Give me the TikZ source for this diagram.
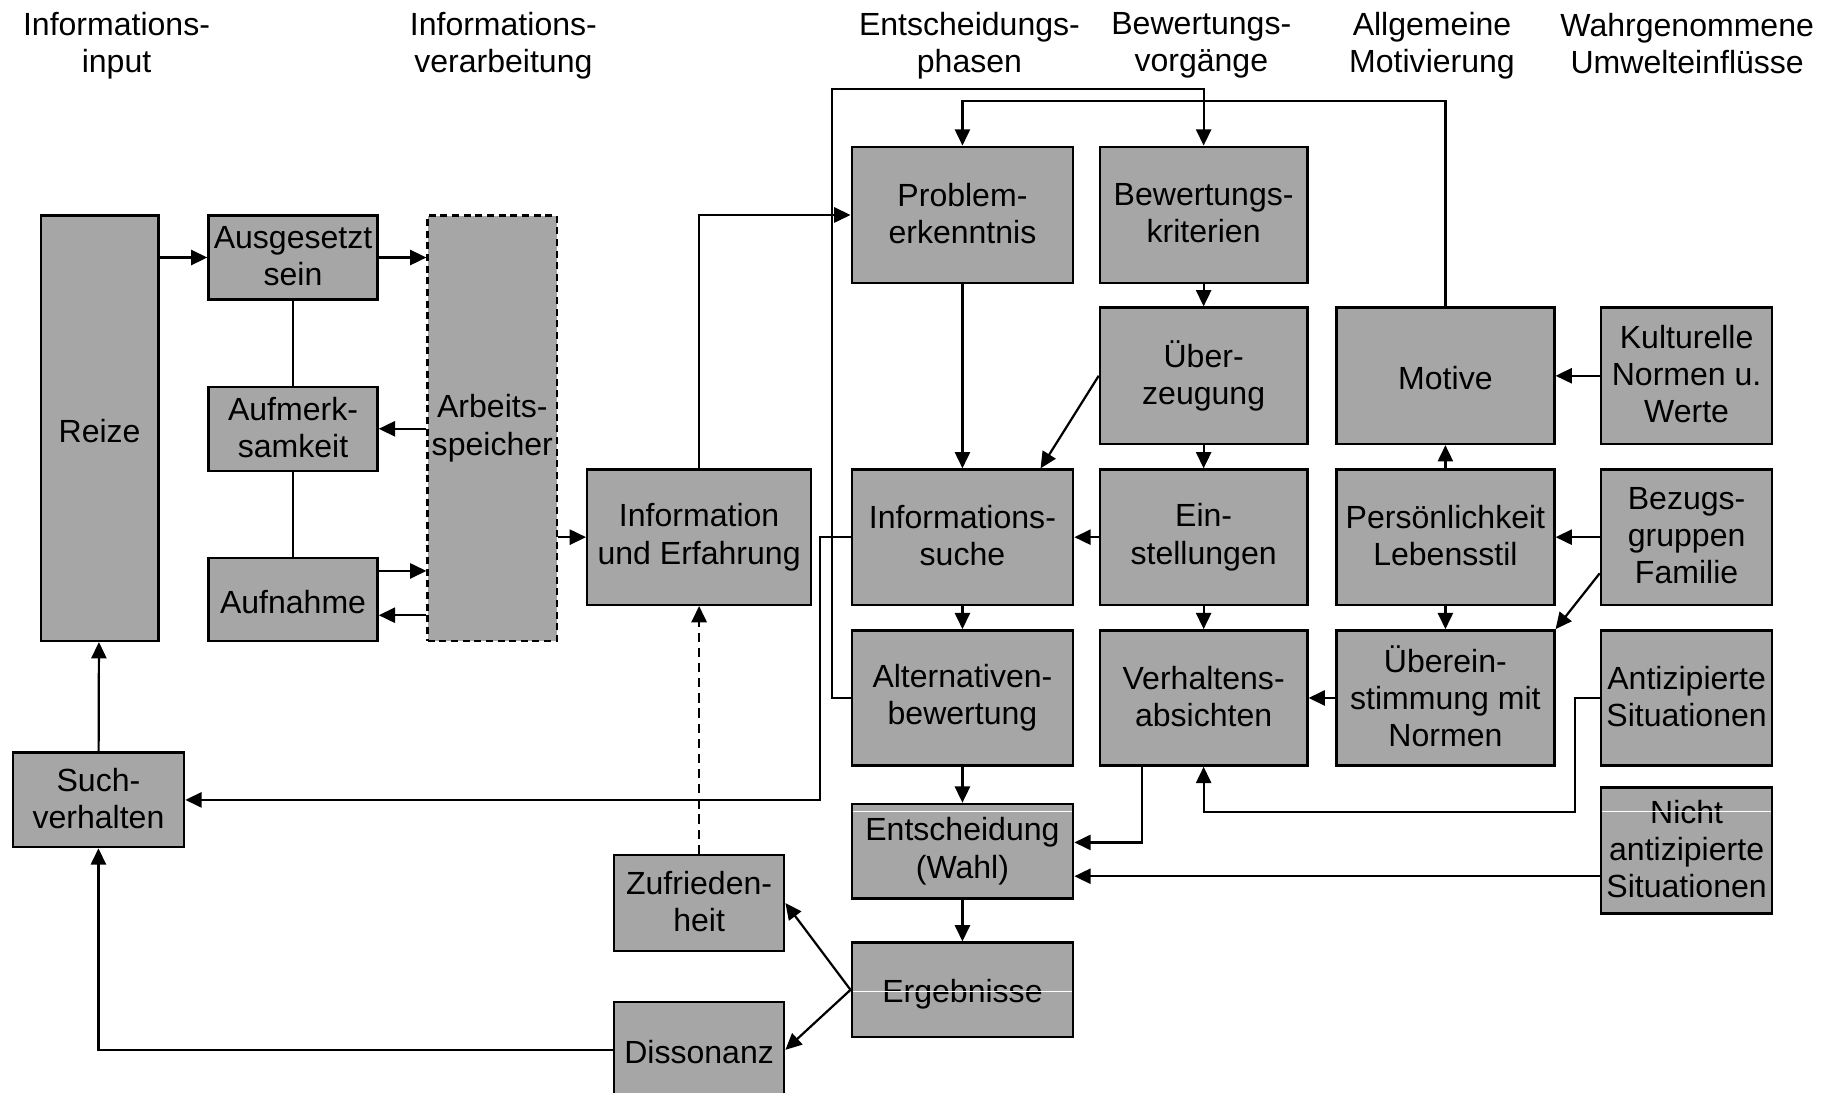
\documentclass[tikz,border=0pt]{standalone}
\usepackage{fontspec}
\setmainfont{Liberation Sans}
\usetikzlibrary{arrows.meta}
\definecolor{boxgray}{RGB}{166,166,166}
\newcommand\linestrut{\rule[-3pt]{0pt}{30pt}}

\begin{document}
\begin{tikzpicture}[x=1pt,y=-1pt,
  box/.style={draw=black,fill=boxgray,line width=2.1pt,inner sep=0pt,align=center,
    font=\fontsize{27.5pt}{32pt}\selectfont,
    execute at begin node=\linestrut,execute at end node=\linestrut},
  dashbox/.style={box,dash pattern=on 6pt off 4pt},
  dim/.style 2 args={minimum width=#1pt,minimum height=#2pt},
  header/.style={align=center,inner sep=0pt,font=\fontsize{27.5pt}{32pt}\selectfont,
    execute at begin node=\linestrut,execute at end node=\linestrut},
  conn/.style={line width=1.9pt,-{Triangle[length=14pt,width=13pt]}},
  link/.style={line width=1.9pt},
  glint/.style={white,line width=0.8pt}]
\useasboundingbox (0,0) rectangle (1568,938);
\clip (0,0) rectangle (1568,938);

\node[header] (hinput) at (100,39) {Informations-\\input};
\node[header] (hverarb) at (432,39) {Informations-\\verarbeitung};
\node[header] (hphasen) at (832,39) {Entscheidungs-\\phasen};
\node[header] (hbewert) at (1031,39) {Bewertungs-\\vorgänge};
\node[header] (hmotiv) at (1229,39) {Allgemeine\\Motivierung};
\node[header] (humwelt) at (1448,39) {Wahrgenommene\\Umwelteinflüsse};

\node[box,dim={101}{365}] (reize) at (85.5,367.5) {Reize};
\node[box,dim={145}{72}] (aus) at (251.5,221) {Ausgesetzt\\sein};
\node[box,dim={145}{72}] (aufm) at (251.5,368) {Aufmerk-\\samkeit};
\node[box,dim={145}{71}] (aufn) at (251.5,514.5) {Aufnahme};
\node[dashbox,dim={111}{365}] (arb) at (422.5,367.5) {Arbeits-\\speicher};
\node[box,dim={192}{116}] (info) at (600,461) {Information\\und Erfahrung};

\node[box,dim={190}{117}] (prob) at (826,184.5) {Problem-\\erkenntnis};
\node[box,dim={178}{117}] (bew) at (1033,184.5) {Bewertungs-\\kriterien};
\node[box,dim={178}{117}] (ueberz) at (1033,322.5) {Über-\\zeugung};
\node[box,dim={187}{117}] (motive) at (1240.5,322.5) {Motive};
\node[box,dim={147}{117}] (kult) at (1447.5,322.5) {Kulturelle\\Normen u.\\Werte};
\node[box,dim={190}{116}] (isuche) at (826,461) {Informations-\\suche};
\node[box,dim={178}{116}] (einst) at (1033,461) {Ein-\\stellungen};
\node[box,dim={187}{116}] (pers) at (1240.5,461) {Persönlichkeit\\Lebensstil};
\node[box,dim={147}{116}] (bezug) at (1447.5,461) {Bezugs-\\gruppen\\Familie};
\node[box,dim={190}{116}] (alt) at (826,599) {Alternativen-\\bewertung};
\node[box,dim={178}{116}] (verh) at (1033,599) {Verhaltens-\\absichten};
\node[box,dim={187}{116}] (uebere) at (1240.5,599) {Überein-\\stimmung mit\\Normen};
\node[box,dim={147}{116}] (antiz) at (1447.5,599) {Antizipierte\\Situationen};
\node[box,dim={190}{81}] (ent) at (826,730.5) {Entscheidung\\(Wahl)};
\node[box,dim={147}{108}] (nicht) at (1447.5,730) {Nicht\\antizipierte\\Situationen};
\node[box,dim={190}{81}] (erg) at (826,849.5) {Ergebnisse};
\node[box,dim={146}{82}] (zuf) at (600,775) {Zufrieden-\\heit};
\node[box,dim={146}{82}] (diss) at (600,901) {Dissonanz};
\node[box,dim={147}{81}] (such) at (84.5,686.5) {Such-\\verhalten};

\draw[glint] (732,696) -- (920,696);
\draw[glint] (732,850.5) -- (920,850.5);
\draw[glint] (1375,696) -- (1520,696);

\coordinate (loopin) at (0,86.5);
\coordinate (loopout) at (714,76.7);
\coordinate (suchx) at (704,686.5);
\coordinate (antx) at (1352,697);

\draw[conn] (reize.east |- aus) -- (aus.west);
\draw[conn] (aus.east) -- (aus.east -| arb.west);
\draw[conn] (arb.west |- aufm) -- (aufm.east);
\draw[conn] ([yshift=24.5pt]aufn.east) -- ([yshift=24.5pt]aufn.east -| arb.west);
\draw[conn] ([yshift=-13.5pt]aufn.east -| arb.west) -- ([yshift=-13.5pt]aufn.east);
\draw[link] (aus) -- (aufm);
\draw[link] (aufm) -- (aufn);
\draw[conn] (arb.east |- info) -- (info.west);
\draw[conn] (info.north) |- (prob.west);

\draw[conn] (motive.north) -- (motive.north |- loopin) -| (prob.north);
\draw[conn] (alt.west) -- (alt.west -| loopout) -- (loopout) -| (bew.north);
\draw[conn] (prob) -- (isuche);
\draw[conn] (bew) -- (ueberz);
\draw[conn] (ueberz) -- (einst);
\draw[conn] (ueberz.west) -- ([xshift=-29pt]isuche.north east);
\draw[conn] (einst) -- (isuche);
\draw[conn] (einst) -- (verh);
\draw[conn] (isuche) -- (alt);
\draw[conn] (alt) -- (ent);
\draw[conn] (ent) -- (erg);

\draw[conn] (kult) -- (motive);
\draw[conn] (pers) -- (motive);
\draw[conn] (pers) -- (uebere);
\draw[conn] (bezug) -- (pers);
\draw[conn] ([yshift=-31pt]bezug.west) -- (uebere.north east);
\draw[conn] (uebere) -- (verh);
\draw[conn] (antiz.west) -| (antx) -| (verh.south);
\draw[conn] ([xshift=-53pt]verh.south) |- ([yshift=7.5pt]ent.east);
\draw[conn] ([yshift=-22pt]nicht.west) -- ([yshift=-22pt]nicht.west -| ent.east);

\draw[conn] (isuche.west) -| (suchx) -- (such.east);
\draw[conn] (such) -- (reize);
\draw[conn] (diss.west) -| (such.south);
\draw[conn,dash pattern=on 8pt off 5pt] (zuf) -- (info);
\draw[conn] (erg.west) -- (zuf.east);
\draw[conn] (erg.west) -- (diss.east);
\end{tikzpicture}
\end{document}
